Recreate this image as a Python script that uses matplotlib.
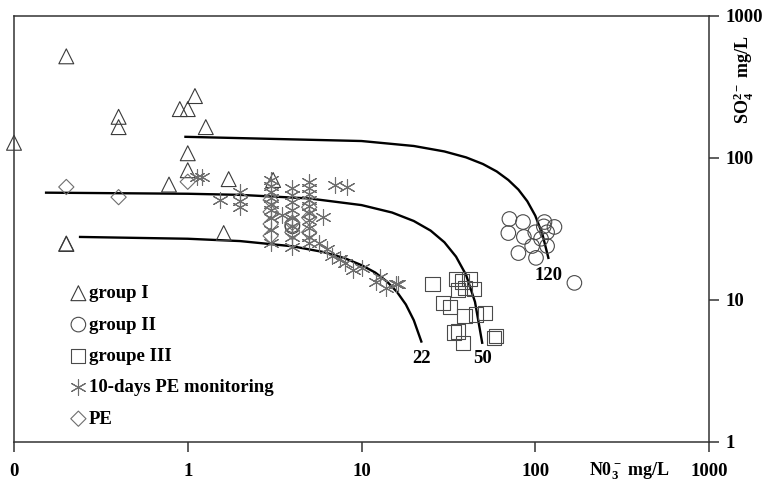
import numpy as np
import matplotlib.pyplot as plt

plt.rcParams['font.family'] = ['Liberation Serif', 'DejaVu Serif']
plt.rcParams['font.weight'] = 'bold'
plt.rcParams['mathtext.fontset'] = 'custom'
plt.rcParams['mathtext.rm'] = 'Liberation Serif:bold'
plt.rcParams['mathtext.it'] = 'Liberation Serif:italic:bold'
plt.rcParams['mathtext.bf'] = 'Liberation Serif:bold'
plt.rcParams['mathtext.default'] = 'rm'

# group I (triangles)
g1_no3 = [0.1, 0.2, 0.4, 0.4, 0.9, 1.0, 1.1, 1.27, 1.0, 1.0, 0.78, 1.72, 1.61, 0.2, 0.2, 3.1]
g1_so4 = [128, 520, 195, 165, 221, 221, 273, 165, 108, 82, 65, 71, 29.6, 25, 24.8, 70]

# group II (circles)
g2_no3 = [71, 85, 70, 86, 100, 113, 129, 117, 96, 117, 80, 101, 168, 108, 112, 4.0, 4.0]
g2_so4 = [37.2, 35.4, 29.6, 27.8, 30, 35.4, 32.7, 30, 24, 24, 21.4, 19.8, 13.2, 27, 33, 33.7, 33]

# groupe III (squares)
g3_no3 = [25.6, 35.2, 41.8, 35.8, 44.6, 39.5, 29.3, 32.4, 39.1, 45.8, 51.6, 34.2, 35.8, 38.5, 59.7, 58, 38]
g3_so4 = [13, 14.1, 14.1, 11.7, 12, 12.2, 9.5, 8.9, 7.7, 7.9, 8.1, 5.9, 6.0, 5.0, 5.6, 5.4, 13.5]

# 10-days PE monitoring (asterisks)
mon_no3 = [3] * 9 + [4] * 8 + [5] * 10 + [1.13, 1.2, 1.53, 2.0, 2.0, 2.0, 7.0, 8.2, 6.0, 3.5,
                                          5.7, 6.8, 7.5, 8.0, 8.9, 10.1, 12.7, 13.9, 15.8, 12.1, 16.2, 6.3]
mon_so4 = [70, 63.5, 57.5, 52, 47.5, 43, 37.6, 31, 25,
           61.5, 55, 49, 43, 37.6, 33, 28, 23.6,
           68, 61.5, 55.6, 50.6, 46, 41, 36.6, 32, 28, 25,
           73, 74, 51, 58, 50, 45, 65, 62.5, 38.5, 40,
           25, 20.5, 19.5, 18.2, 16.3, 16.7, 14.5, 12.2, 13, 13.4, 13, 23]

# PE (diamonds)
pe_no3 = [0.2, 0.4, 1.0, 3, 3, 3, 3, 4, 4, 5, 5, 5]
pe_so4 = [62.5, 53, 68, 50.6, 41.7, 34.3, 28.3, 35, 30, 45, 38, 30]

# mixing curves
c22_no3 = [0.24, 1, 2, 4, 6, 8, 10, 12, 14, 16, 18, 20, 22.1]
c22_so4 = [27.8, 27, 26, 23.9, 21.8, 19.7, 17.6, 15.6, 13.5, 11.4, 9.3, 7.2, 5.1]
c50_no3 = [0.153, 1, 2, 5, 10, 15, 20, 25, 30, 35, 40, 45, 49.5]
c50_so4 = [57, 56, 55, 51.9, 46.6, 41.3, 36, 30.8, 25.5, 20.2, 15, 9.7, 5]
c120_no3 = [0.97, 10, 20, 30, 40, 50, 60, 70, 80, 90, 100, 110, 119]
c120_so4 = [141, 131.7, 121.5, 111.2, 101, 90.7, 80.4, 70, 59.9, 49.6, 39.3, 29, 19.8]

xticks = [0.1, 1, 10, 100, 1000]
xlabels = ['0', '1', '10', '100', '1000']
yticks = [1, 10, 100, 1000]
ylabels = ['1', '10', '100', '1000']

fig = plt.figure(figsize=(7.68, 4.84), dpi=100)
ax = fig.add_axes([14 / 768, 1 - 442 / 484, 695 / 768, 426 / 484])
ax.set_xscale('log')
ax.set_yscale('log')
ax.set_xlim(0.1, 1000)
ax.set_ylim(1, 1000)

for xs, ys in [(c22_no3, c22_so4), (c50_no3, c50_so4), (c120_no3, c120_so4)]:
    ax.plot(xs, ys, color='black', lw=1.7, zorder=2)

mk = dict(facecolors='none', linewidths=0.8, clip_on=False, zorder=3)
ax.scatter(g1_no3, g1_so4, marker='^', s=115, edgecolors='#3a3a3a', label='group I', **mk)
ax.scatter(g2_no3, g2_so4, marker='o', s=110, edgecolors='#4a4a4a', label='group II', **mk)
ax.scatter(g3_no3, g3_so4, marker='s', s=105, edgecolors='#4a4a4a', label='groupe III', **mk)
ax.scatter(mon_no3, mon_so4, marker=(6, 2, 0), s=130, color='#6e6e6e', linewidths=0.8,
           label='10-days PE monitoring', zorder=3)
ax.scatter(pe_no3, pe_so4, marker='D', s=60, edgecolors='#6e6e6e', label='PE', **mk)

ax.text(c22_no3[-1], 3.9, '22', ha='center', va='center', fontsize=13.5)
ax.text(c50_no3[-1], 3.9, '50', ha='center', va='center', fontsize=13.5)
ax.text(c120_no3[-1], 14.8, '120', ha='center', va='center', fontsize=13.5)

ax.set_xticks(xticks)
ax.set_xticklabels(xlabels)
ax.set_yticks(yticks)
ax.set_yticklabels(ylabels)
ax.minorticks_off()
ax.yaxis.tick_right()
ax.tick_params(axis='x', direction='out', length=7, width=1.1, pad=8, labelsize=13.5, color='#333333')
ax.tick_params(axis='y', direction='out', length=7, width=1.1, pad=5, labelsize=13.5, color='#333333')
for sp in ax.spines.values():
    sp.set_linewidth(1.1)
    sp.set_color('#333333')

ax.text(0.885, -0.068, 'N0$_3^-$ mg/L', transform=ax.transAxes, ha='center', va='center',
        fontsize=13)
fig.text(744 / 768, 1 - 80 / 484, 'SO$_4^{2-}$ mg/L', rotation=90, ha='center', va='center',
         fontsize=13)

leg = ax.legend(loc='upper left', bbox_to_anchor=(69 / 768, 1 - 285 / 484),
                bbox_transform=fig.transFigure, frameon=False, scatterpoints=1,
                fontsize=13.5, labelspacing=0.76, handlelength=1.0, handletextpad=0.05,
                borderpad=0, borderaxespad=0)

fig.savefig('out.png', dpi=100)
